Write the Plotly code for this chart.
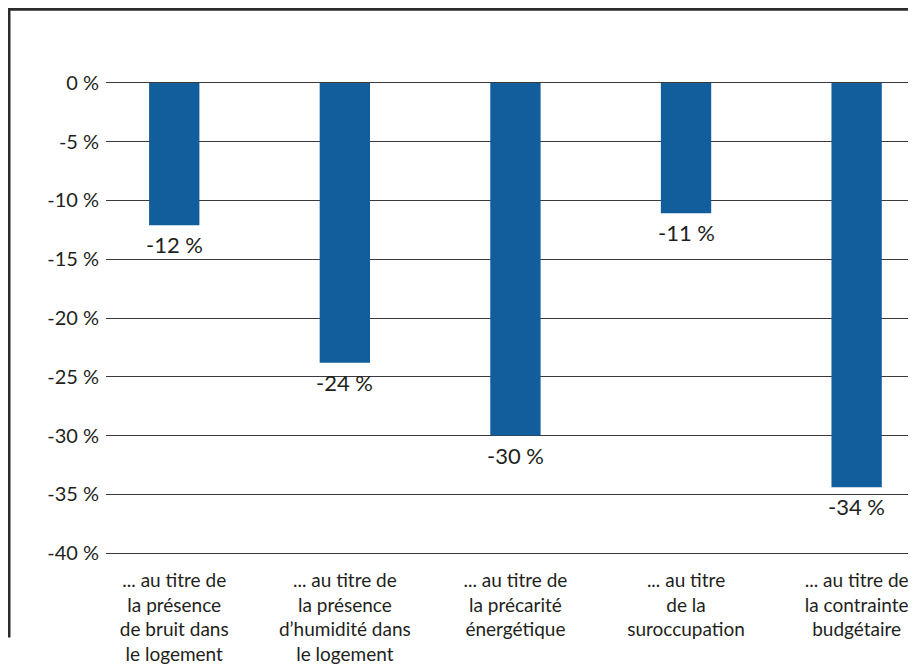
import plotly.graph_objects as go

categories = [
    "... au titre de<br>la présence<br>de bruit dans<br>le logement",
    "... au titre de<br>la présence<br>d’humidité dans<br>le logement",
    "... au titre de<br>la précarité<br>énergétique",
    "... au titre<br>de la<br>suroccupation",
    "... au titre de<br>la contrainte<br>budgétaire",
]
values = [-12.1, -23.8, -30.0, -11.1, -34.4]
SP = "\u2009\u2009"
value_labels = ["-12" + SP + "%", "-24" + SP + "%", "-30" + SP + "%", "-11" + SP + "%", "-34" + SP + "%"]
y_ticks = [0, -5, -10, -15, -20, -25, -30, -35, -40]
y_ticktext = ["0" + SP + "%", "-5" + SP + "%", "-10" + SP + "%", "-15" + SP + "%", "-20" + SP + "%",
              "-25" + SP + "%", "-30" + SP + "%", "-35" + SP + "%", "-40" + SP + "%"]

BAR = "#125D9B"
TXT = "#231F20"
FONT = "Lato"

fig = go.Figure()
fig.add_trace(go.Bar(
    x=list(range(len(categories))),
    y=values,
    width=0.295,
    marker=dict(color=BAR, line=dict(width=0)),
    hoverinfo="skip",
))

for i, (v, t) in enumerate(zip(values, value_labels)):
    fig.add_annotation(
        x=i, y=v, text=t, showarrow=False, xref="x", yref="y",
        yanchor="top", xanchor="center", yshift=-4,
        font=dict(family=FONT, size=22, color=TXT),
    )

# page body adds an 8px offset, so the figure is 8px smaller and shifted
W, H = 908, 656
L, R, T, B = 98, 0, 68.8, 105.4
pw = W - L - R
ph = H - T - B

def px_x(x):
    return (x - L) / pw

def px_y(y):
    return (H - B - y) / ph

fig.add_shape(type="line", xref="paper", yref="paper",
              x0=px_x(0), x1=px_x(W), y0=px_y(1), y1=px_y(1),
              line=dict(color="#2B2B2B", width=3))
fig.add_shape(type="line", xref="paper", yref="paper",
              x0=px_x(1), x1=px_x(1), y0=px_y(0), y1=px_y(629),
              line=dict(color="#2B2B2B", width=3))

fig.update_layout(
    width=W, height=H,
    margin=dict(l=L, r=R, t=T, b=B, pad=0),
    paper_bgcolor="white", plot_bgcolor="white",
    showlegend=False,
    font=dict(family=FONT, size=19, color=TXT),
    xaxis=dict(
        range=[-0.40, 4.348],
        tickmode="array", tickvals=list(range(len(categories))), ticktext=categories,
        showgrid=False, zeroline=False, showline=False, ticks="",
        tickfont=dict(family=FONT, size=19, color=TXT),
        ticklabelstandoff=8, automargin=False,
    ),
    yaxis=dict(
        range=[-40.5, 0.5],
        tickmode="array", tickvals=y_ticks, ticktext=y_ticktext,
        showgrid=True, gridcolor="#3A3A3A", gridwidth=1.3,
        zeroline=False, showline=False, ticks="",
        tickfont=dict(family=FONT, size=20, color=TXT),
        ticklabelstandoff=6, automargin=False,
    ),
)

fig.write_html("out.html")
